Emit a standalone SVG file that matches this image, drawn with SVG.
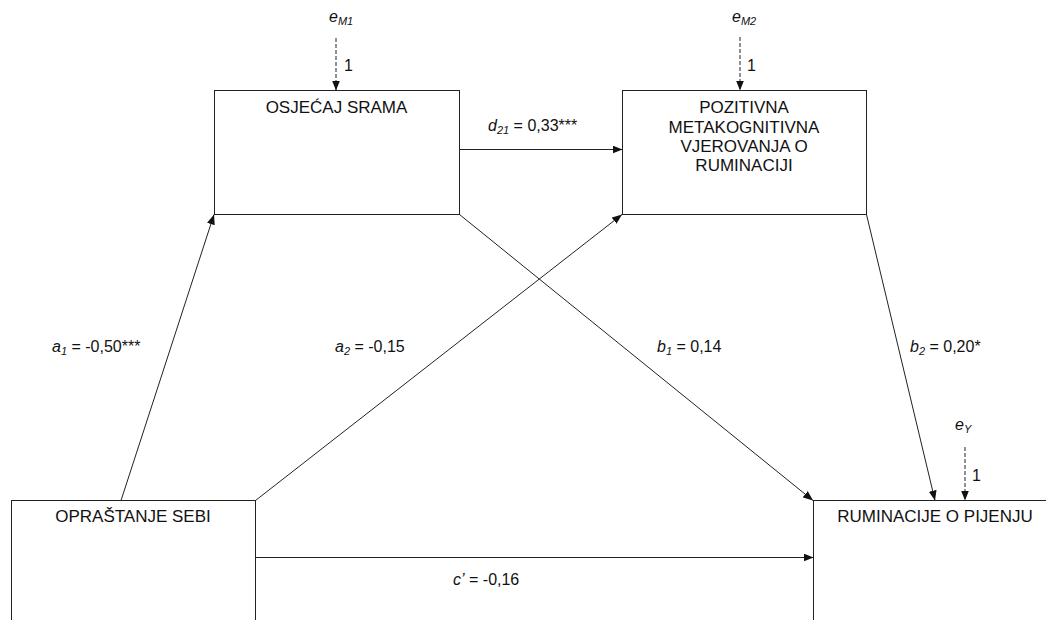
<svg xmlns="http://www.w3.org/2000/svg" width="1046" height="620" viewBox="0 0 1046 620">
<style>
.box{fill:#fff;stroke:#222;stroke-width:1}
.t{font-family:"Liberation Sans",Arial,sans-serif;font-size:17px;fill:#111;text-anchor:middle}
.l{font-family:"Liberation Sans",Arial,sans-serif;font-size:16px;fill:#111}
.i{font-style:italic}
.s{font-size:11px;font-style:italic}
.c{fill:none;stroke:#222;stroke-width:1;marker-end:url(#ah)}
.d{fill:none;stroke:#222;stroke-width:1;stroke-dasharray:4,2;marker-end:url(#ah)}
</style>
<defs>
<marker id="ah" markerUnits="userSpaceOnUse" markerWidth="10" markerHeight="8" refX="10" refY="4" orient="auto">
<path d="M0,0 L10,4 L0,8 z" fill="#111"/>
</marker>
</defs>
<rect width="1046" height="620" fill="#fff"/>
<g id="node-shame">
<rect class="box" x="214.5" y="90.5" width="245" height="124"/>
<text class="t" x="336.5" y="113">OSJEĆAJ SRAMA</text>
</g>
<g id="node-meta">
<rect class="box" x="622.5" y="90.5" width="244" height="124"/>
<text class="t" x="744" y="113">POZITIVNA</text>
<text class="t" x="744" y="132.5">METAKOGNITIVNA</text>
<text class="t" x="744" y="152">VJEROVANJA O</text>
<text class="t" x="744" y="171">RUMINACIJI</text>
</g>
<g id="node-forgive">
<rect class="box" x="11.5" y="500.5" width="244" height="124"/>
<text class="t" x="133" y="522">OPRAŠTANJE SEBI</text>
</g>
<g id="node-rumination">
<rect class="box" x="813.5" y="500.5" width="244" height="124"/>
<text class="t" x="935" y="522">RUMINACIJE O PIJENJU</text>
</g>
<g id="errors">
<text class="l" x="329" y="22"><tspan class="i">e</tspan><tspan class="s" dy="3">M1</tspan></text>
<text class="l" x="732" y="22"><tspan class="i">e</tspan><tspan class="s" dy="3">M2</tspan></text>
<text class="l" x="955" y="430"><tspan class="i">e</tspan><tspan class="s" dy="3">Y</tspan></text>
<text class="l" x="344" y="71">1</text>
<text class="l" x="747" y="71">1</text>
<text class="l" x="972" y="481">1</text>
</g>
<g id="connectors">
<line class="d" x1="336" y1="38" x2="336" y2="90.5"/>
<line class="d" x1="740" y1="37" x2="740" y2="90.5"/>
<line class="d" x1="965" y1="447" x2="965" y2="500.5"/>
<line class="c" x1="459.5" y1="149.5" x2="622.5" y2="149.5"/>
<line class="c" x1="121" y1="500.5" x2="214" y2="214.5"/>
<line class="c" x1="255.5" y1="500.5" x2="622" y2="214.5"/>
<line class="c" x1="459.5" y1="214.5" x2="813" y2="500.5"/>
<line class="c" x1="866.5" y1="214.5" x2="935" y2="500.5"/>
<line class="c" x1="255.5" y1="557.5" x2="813.5" y2="557.5"/>
</g>
<g id="labels">
<text class="l" x="488" y="131"><tspan class="i">d</tspan><tspan class="s" dy="3">21</tspan><tspan dy="-3"> = 0,33***</tspan></text>
<text class="l" x="52" y="352"><tspan class="i">a</tspan><tspan class="s" dy="3">1</tspan><tspan dy="-3"> = -0,50***</tspan></text>
<text class="l" x="335" y="352"><tspan class="i">a</tspan><tspan class="s" dy="3">2</tspan><tspan dy="-3"> = -0,15</tspan></text>
<text class="l" x="657" y="352"><tspan class="i">b</tspan><tspan class="s" dy="3">1</tspan><tspan dy="-3"> = 0,14</tspan></text>
<text class="l" x="910" y="352"><tspan class="i">b</tspan><tspan class="s" dy="3">2</tspan><tspan dy="-3"> = 0,20*</tspan></text>
<text class="l" x="453" y="585"><tspan class="i">c’</tspan> = -0,16</text>
</g>
</svg>
